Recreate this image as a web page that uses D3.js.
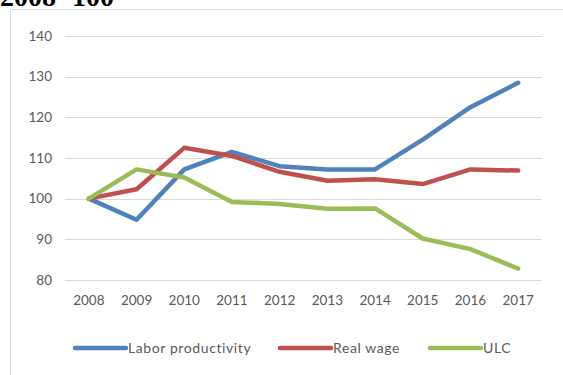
<!DOCTYPE html>
<html><head><meta charset="utf-8">
<script src="https://d3js.org/d3.v7.min.js"></script>
<style>html,body{margin:0;padding:0;background:#fff;overflow:hidden}</style>
</head><body>
<script>
const years = ["2008","2009","2010","2011","2012","2013","2014","2015","2016","2017"];
const laborProductivity = [100, 94.8, 107.2, 111.5, 108.0, 107.2, 107.2, 114.5, 122.5, 128.5];
const realWage = [100, 102.3, 112.5, 110.5, 106.6, 104.4, 104.8, 103.6, 107.2, 106.9];
const ulc = [100, 107.2, 105.2, 99.2, 98.7, 97.5, 97.6, 90.2, 87.6, 82.8];
const yTicks = [80, 90, 100, 110, 120, 130, 140];
const seriesNames = ["Labor productivity", "Real wage", "ULC"];
const seriesColors = ["#4F81BD", "#C0504D", "#9BBB59"];
const titleText = "2008=100";

const W = 563, H = 375;
const svg = d3.select("body").append("svg").attr("width", W).attr("height", H);

// chart frame
svg.append("path").attr("d", `M10.5,${H} L10.5,9.5 L${W},9.5`).attr("fill","none").attr("stroke","#d9d9d9").attr("stroke-width",1);

// title (cropped at top, as in the source image)
svg.append("text").attr("x", 0).attr("y", 6).text(titleText)
  .attr("font-family", "'Liberation Serif', 'Times New Roman', serif").attr("font-weight","bold")
  .attr("font-size", 28).attr("fill", "#000");

const x = d3.scaleBand().domain(years).range([65, 542]);
const y = d3.scaleLinear().domain([80, 140]).range([280, 36]);

const font = "Lato, 'Open Sans', sans-serif";
const textColor = "#595959";

// gridlines
svg.append("g").selectAll("line").data(yTicks).join("line")
  .attr("x1", 65).attr("x2", 542)
  .attr("y1", d => Math.round(y(d)) + 0.5).attr("y2", d => Math.round(y(d)) + 0.5)
  .attr("stroke", "#d9d9d9").attr("stroke-width", 1);

// y axis labels
const yAxis = d3.axisLeft(y).tickValues(yTicks).tickSize(0).tickPadding(0);
const gy = svg.append("g").attr("transform", "translate(52,0)").call(yAxis);
gy.select(".domain").remove();
gy.selectAll("text").attr("font-family", font).attr("font-size", 13.5).attr("fill", textColor);

// x axis labels
const xAxis = d3.axisBottom(x).tickSize(0).tickPadding(0);
const gx = svg.append("g").attr("transform", "translate(0,295)").call(xAxis);
gx.select(".domain").remove();
gx.selectAll("text").attr("font-family", font).attr("font-size", 13.5).attr("fill", textColor);

const line = d3.line().x((d, i) => x(years[i]) + x.bandwidth() / 2).y(d => y(d));
const allSeries = [laborProductivity, realWage, ulc];
allSeries.forEach((s, k) => {
  svg.append("path").datum(s).attr("d", line).attr("fill", "none")
    .attr("stroke", seriesColors[k]).attr("stroke-width", 4.5)
    .attr("stroke-linejoin", "round").attr("stroke-linecap", "round");
});

// legend
const legendX = [75, 280, 430];
const lg = svg.append("g");
seriesNames.forEach((n, k) => {
  lg.append("line").attr("x1", legendX[k]).attr("x2", legendX[k] + 51)
    .attr("y1", 348).attr("y2", 348).attr("stroke", seriesColors[k]).attr("stroke-width", 4.5)
    .attr("stroke-linecap", "round");
  lg.append("text").attr("x", legendX[k] + 53).attr("y", 348).attr("dy", "0.35em")
    .attr("font-family", font).attr("font-size", 14).attr("letter-spacing", 0.6)
    .attr("fill", textColor).text(n);
});
</script>
</body></html>
